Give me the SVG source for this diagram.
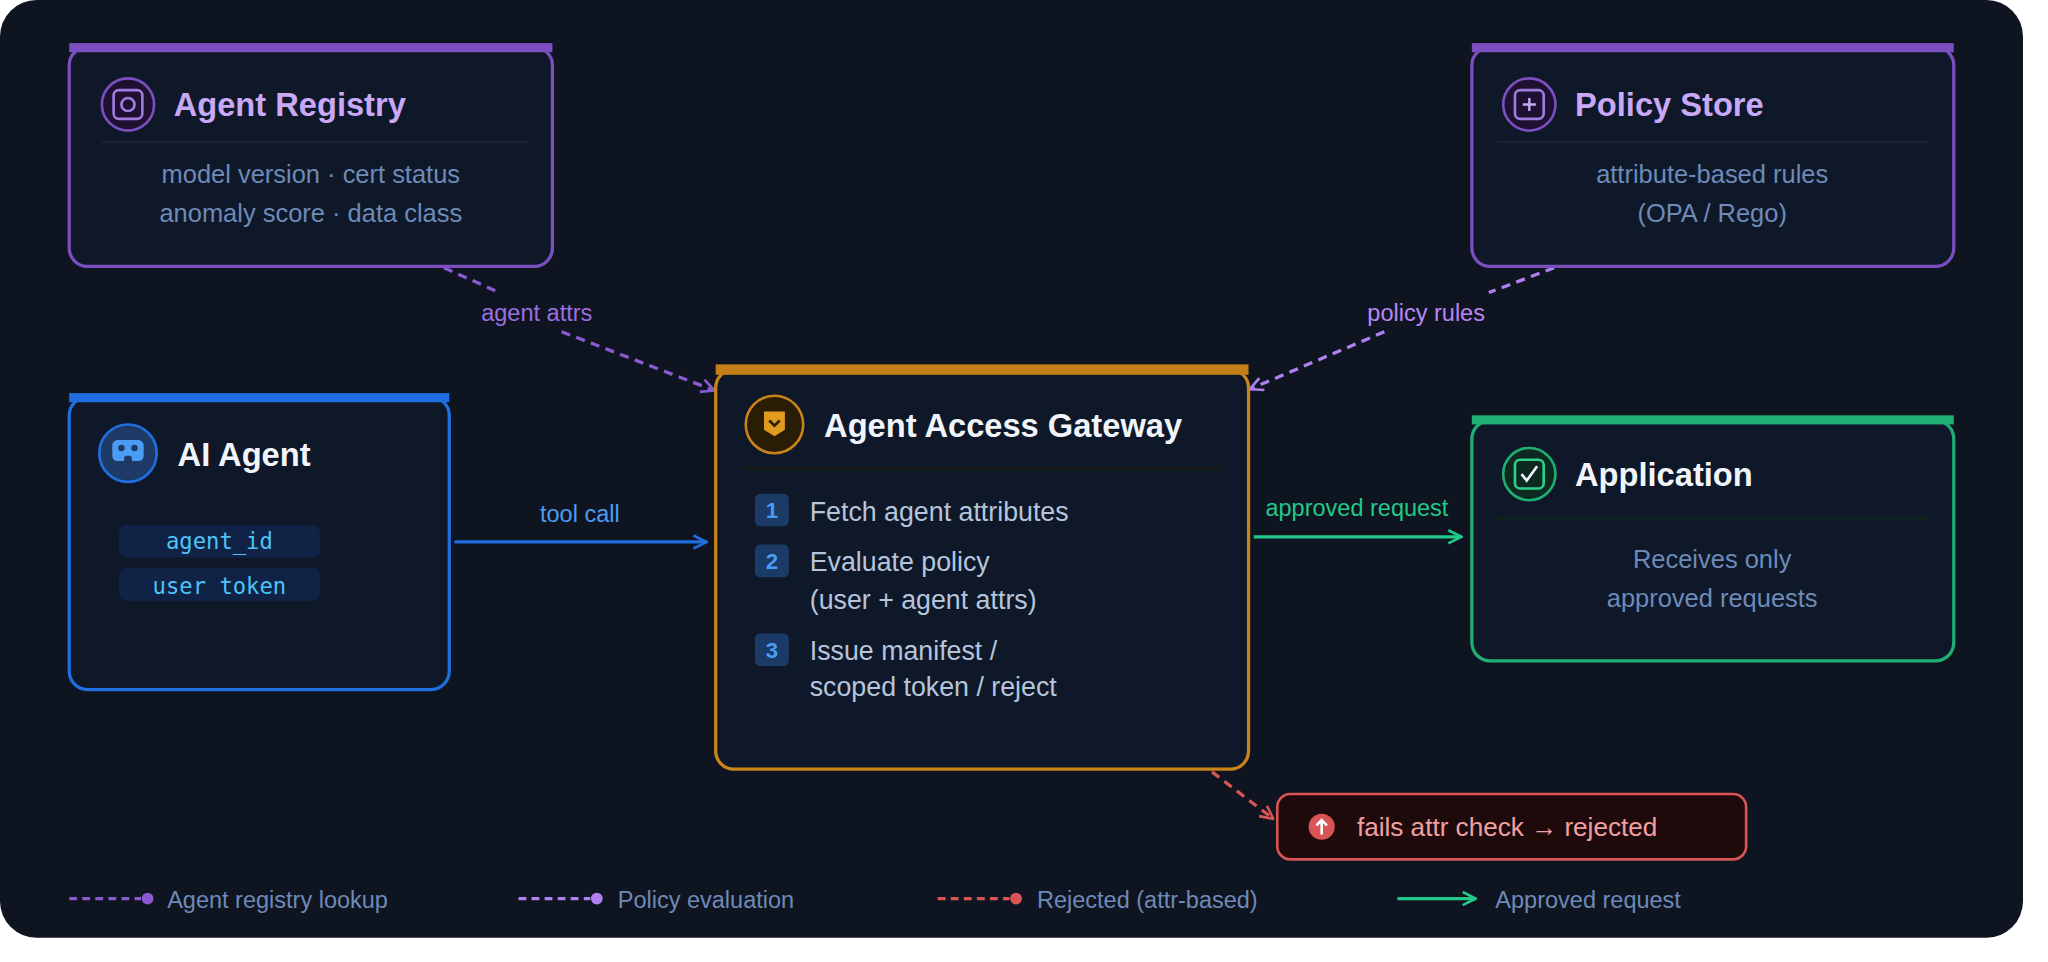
<svg xmlns="http://www.w3.org/2000/svg" width="2048" height="962" viewBox="0 0 2048 962">
<defs>
<style>
.box{fill:#0e1829;stroke-width:2.5}
.t{font-family:"Liberation Sans",Arial,sans-serif}
.title{font-family:"Liberation Sans",Arial,sans-serif;font-size:25px;font-weight:bold}
.body{font-family:"Liberation Sans",Arial,sans-serif;font-size:19.5px;fill:#6d8ab8;text-anchor:middle}
.step{font-family:"Liberation Sans",Arial,sans-serif;font-size:20.5px;fill:#b6c4dc}
.badge{fill:#1b3a66}
.bnum{font-family:"Liberation Sans",Arial,sans-serif;font-size:17px;font-weight:bold;fill:#4b9cf5;text-anchor:middle}
.lbl{font-family:"Liberation Sans",Arial,sans-serif;font-size:18px;text-anchor:middle}
.leg{font-family:"Liberation Sans",Arial,sans-serif;font-size:18px;fill:#6d8ab8}
.mono{font-family:"DejaVu Sans Mono","Liberation Mono",monospace;font-size:17px;fill:#4dc3f5;text-anchor:middle}
.div{stroke-width:1.5}
</style>
<marker id="aB" viewBox="0 0 12 12" refX="11" refY="6" markerWidth="12" markerHeight="12" markerUnits="userSpaceOnUse" orient="auto"><path d="M1,1 L11,6 L1,11" fill="none" stroke="#1f6fe0" stroke-width="2"/></marker>
<marker id="aG" viewBox="0 0 12 12" refX="11" refY="6" markerWidth="12" markerHeight="12" markerUnits="userSpaceOnUse" orient="auto"><path d="M1,1 L11,6 L1,11" fill="none" stroke="#22c98a" stroke-width="2"/></marker>
<marker id="aP" viewBox="0 0 12 12" refX="11" refY="6" markerWidth="12" markerHeight="12" markerUnits="userSpaceOnUse" orient="auto"><path d="M1,1 L11,6 L1,11" fill="none" stroke="#8a5ad0" stroke-width="2"/></marker>
<marker id="aL" viewBox="0 0 12 12" refX="11" refY="6" markerWidth="12" markerHeight="12" markerUnits="userSpaceOnUse" orient="auto"><path d="M1,1 L11,6 L1,11" fill="none" stroke="#b07ff0" stroke-width="2"/></marker>
<marker id="aR" viewBox="0 0 12 12" refX="11" refY="6" markerWidth="12" markerHeight="12" markerUnits="userSpaceOnUse" orient="auto"><path d="M1,1 L11,6 L1,11" fill="none" stroke="#d95555" stroke-width="2"/></marker>
</defs>
<rect width="2048" height="962" fill="#ffffff"/>
<g transform="scale(1.306)">
<rect x="0" y="0" width="1549" height="718" rx="28" fill="#0f1520"/>

<g id="connectors">
<line x1="348" y1="415" x2="541" y2="415" stroke="#1f6fe0" stroke-width="2.5" marker-end="url(#aB)"/>
<text class="lbl" x="444" y="400" fill="#4b9cf5">tool call</text>
<line x1="340" y1="205" x2="380" y2="223" stroke="#8a5ad0" stroke-width="2.5" stroke-dasharray="7,5"/>
<line x1="430" y1="254" x2="547" y2="299" stroke="#8a5ad0" stroke-width="2.5" stroke-dasharray="7,5" marker-end="url(#aP)"/>
<text class="lbl" x="411" y="246" fill="#9b6ee0">agent attrs</text>
<line x1="1190" y1="205" x2="1140" y2="224" stroke="#b07ff0" stroke-width="2.5" stroke-dasharray="7,5"/>
<line x1="1060" y1="254" x2="957" y2="298" stroke="#b07ff0" stroke-width="2.5" stroke-dasharray="7,5" marker-end="url(#aL)"/>
<text class="lbl" x="1092" y="246" fill="#b985f5">policy rules</text>
<line x1="960" y1="411" x2="1119" y2="411" stroke="#22c98a" stroke-width="2.5" marker-end="url(#aG)"/>
<text class="lbl" x="1039" y="395" fill="#22c98a">approved request</text>
<line x1="928" y1="591" x2="975" y2="627" stroke="#d95555" stroke-width="2.5" stroke-dasharray="7,5" marker-end="url(#aR)"/>
</g>

<g id="agent-registry">
<rect class="box" x="53" y="36" width="370" height="168" rx="14" stroke="#7c4fc0"/>
<rect x="53" y="33" width="370" height="7" fill="#7b4fbf"/>
<circle cx="98" cy="80" r="20" fill="#1e1030" stroke="#7c4fc0" stroke-width="2"/>
<rect x="87" y="69" width="22" height="22" rx="4" fill="none" stroke="#a07ce0" stroke-width="2"/>
<circle cx="98" cy="80" r="5" fill="none" stroke="#a07ce0" stroke-width="2"/>
<text class="title" x="133" y="89" fill="#c9a8f5">Agent Registry</text>
<line class="div" x1="78" y1="109" x2="405" y2="109" stroke="#1c2233"/>
<text class="body" x="238" y="140">model version · cert status</text>
<text class="body" x="238" y="170">anomaly score · data class</text>
</g>

<g id="policy-store">
<rect class="box" x="1127" y="36" width="369" height="168" rx="14" stroke="#7c4fc0"/>
<rect x="1127" y="33" width="369" height="7" fill="#7b4fbf"/>
<circle cx="1171" cy="80" r="20" fill="#1e1030" stroke="#7c4fc0" stroke-width="2"/>
<rect x="1160" y="69" width="22" height="22" rx="4" fill="none" stroke="#a07ce0" stroke-width="2"/>
<path d="M1171,75 v10 M1166,80 h10" stroke="#c9a8f5" stroke-width="1.8"/>
<text class="title" x="1206" y="89" fill="#c9a8f5">Policy Store</text>
<line class="div" x1="1146" y1="109" x2="1476" y2="109" stroke="#1c2233"/>
<text class="body" x="1311" y="140">attribute-based rules</text>
<text class="body" x="1311" y="170">(OPA / Rego)</text>
</g>

<g id="ai-agent">
<rect class="box" x="53" y="304" width="291" height="224" rx="14" stroke="#1f6fe0"/>
<rect x="53" y="301" width="291" height="7" fill="#1f6fe0"/>
<circle cx="98" cy="347" r="22" fill="#1e3a66" stroke="#1f6fe0" stroke-width="2"/>
<rect x="86" y="337" width="24" height="16" rx="4" fill="#4b9cf5"/>
<circle cx="93" cy="343" r="2.5" fill="#1e3a66"/>
<circle cx="103" cy="343" r="2.5" fill="#1e3a66"/>
<rect x="95" y="349" width="6" height="5" rx="2" fill="#1e3a66"/>
<text class="title" x="136" y="357" fill="#f1f5fb">AI Agent</text>
<rect x="91" y="402" width="154" height="25" rx="6" fill="#102246"/>
<text class="mono" x="168" y="420">agent_id</text>
<rect x="91" y="435" width="154" height="25" rx="6" fill="#102246"/>
<text class="mono" x="168" y="455">user token</text>
</g>

<g id="gateway">
<rect class="box" x="548" y="283" width="408" height="306" rx="14" stroke="#c88418"/>
<rect x="548" y="279" width="408" height="8" fill="#c47f1a"/>
<circle cx="593" cy="325" r="22" fill="#2a1d05" stroke="#c88418" stroke-width="2"/>
<path d="M585,315 h16 v14 l-8,5 l-8,-5 z" fill="#e09a1e"/>
<path d="M589,322 l4,4 l4,-4" fill="none" stroke="#2a1d05" stroke-width="2"/>
<text class="title" x="631" y="335" fill="#f1f5fb">Agent Access Gateway</text>
<line class="div" x1="570" y1="359" x2="935" y2="359" stroke="#1e1a10"/>
<rect class="badge" x="578" y="378" width="26" height="25" rx="4"/>
<text class="bnum" x="591" y="397">1</text>
<text class="step" x="620" y="399">Fetch agent attributes</text>
<rect class="badge" x="578" y="417" width="26" height="25" rx="4"/>
<text class="bnum" x="591" y="436">2</text>
<text class="step" x="620" y="437">Evaluate policy</text>
<text class="step" x="620" y="466">(user + agent attrs)</text>
<rect class="badge" x="578" y="485" width="26" height="25" rx="4"/>
<text class="bnum" x="591" y="504">3</text>
<text class="step" x="620" y="505">Issue manifest /</text>
<text class="step" x="620" y="533">scoped token / reject</text>
</g>

<g id="application">
<rect class="box" x="1127" y="322" width="369" height="184" rx="14" stroke="#1fae74"/>
<rect x="1127" y="318" width="369" height="7" fill="#1fae74"/>
<circle cx="1171" cy="363" r="20" fill="#0c2a20" stroke="#1fae74" stroke-width="2"/>
<rect x="1160" y="352" width="22" height="22" rx="4" fill="#0c2a20" stroke="#2fd08e" stroke-width="2"/>
<path d="M1165,363 l4,5 l8,-11" fill="none" stroke="#f1f5fb" stroke-width="2"/>
<text class="title" x="1206" y="372" fill="#f1f5fb">Application</text>
<line class="div" x1="1146" y1="397" x2="1476" y2="397" stroke="#0f2a1a"/>
<text class="body" x="1311" y="435">Receives only</text>
<text class="body" x="1311" y="465">approved requests</text>
</g>

<g id="rejected">
<rect x="978" y="608" width="359" height="50" rx="10" fill="#1f0a0b" stroke="#d95555" stroke-width="2"/>
<circle cx="1012" cy="633" r="10" fill="#d95555"/>
<path d="M1012,639 v-11 M1008,632 l4,-4 l4,4" fill="none" stroke="#ffffff" stroke-width="2"/>
<text class="t" x="1039" y="640" font-size="20" fill="#f0a0a0">fails attr check → rejected</text>
</g>

<g id="legend">
<line x1="53" y1="688" x2="108" y2="688" stroke="#8a5ad0" stroke-width="2.5" stroke-dasharray="6,4"/>
<circle cx="113" cy="688" r="4.5" fill="#8a5ad0"/>
<text class="leg" x="128" y="695">Agent registry lookup</text>
<line x1="397" y1="688" x2="452" y2="688" stroke="#b07ff0" stroke-width="2.5" stroke-dasharray="6,4"/>
<circle cx="457" cy="688" r="4.5" fill="#b07ff0"/>
<text class="leg" x="473" y="695">Policy evaluation</text>
<line x1="718" y1="688" x2="773" y2="688" stroke="#d95555" stroke-width="2.5" stroke-dasharray="6,4"/>
<circle cx="778" cy="688" r="4.5" fill="#d95555"/>
<text class="leg" x="794" y="695">Rejected (attr-based)</text>
<line x1="1070" y1="688" x2="1130" y2="688" stroke="#22c98a" stroke-width="2.5" marker-end="url(#aG)"/>
<text class="leg" x="1145" y="695">Approved request</text>
</g>
</g>
</svg>
